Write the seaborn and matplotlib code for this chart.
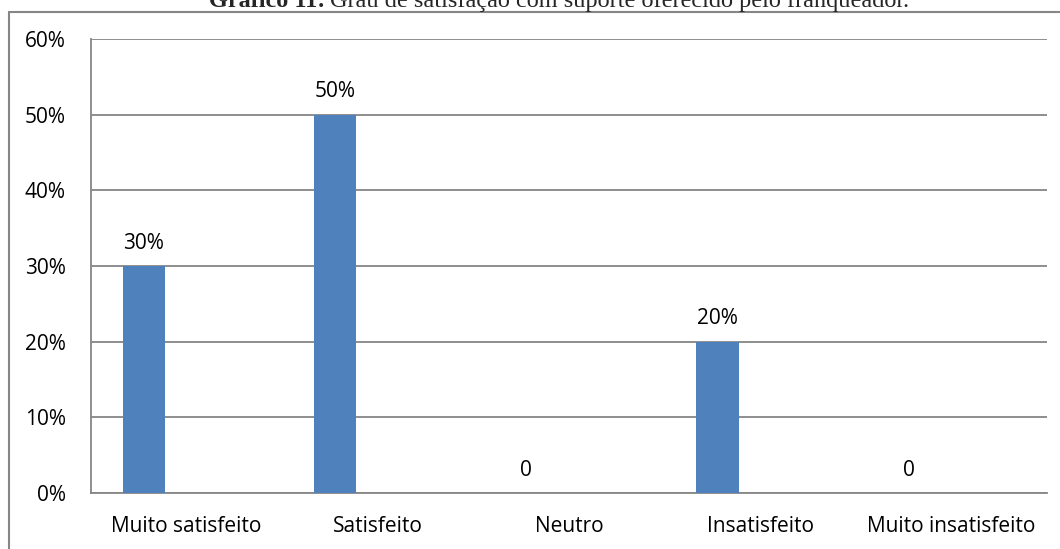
import matplotlib
matplotlib.use("Agg")
import matplotlib.pyplot as plt
from matplotlib.patches import Rectangle
from matplotlib.ticker import FixedLocator, FuncFormatter
import seaborn as sns
import pandas as pd

categories = ["Muito satisfeito", "Satisfeito", "Neutro", "Insatisfeito", "Muito insatisfeito"]
values = [0.30, 0.50, 0.0, 0.20, 0.0]
labels = ["30%", "50%", "0", "20%", "0"]
yticks = [0.0, 0.1, 0.2, 0.3, 0.4, 0.5, 0.6]

sns.set_theme(style="white")
plt.rcParams["font.family"] = ["Open Sans", "DejaVu Sans"]

GRID = "#868686"
BAR = "#4F81BD"
FS = 15

fig = plt.figure(figsize=(10.6, 5.49), dpi=100)
ax = fig.add_axes([0.0856, 0.102, 0.9021, 0.827])

df = pd.DataFrame({"categoria": categories, "valor": values})
sns.barplot(data=df, x="categoria", y="valor", color=BAR, width=0.221,
            saturation=1, ax=ax, zorder=3)

# bars sit in the left part of each category slot
shift = -0.223
for p in ax.patches:
    p.set_x(p.get_x() + shift)
    p.set_edgecolor("none")

for i, (v, t) in enumerate(zip(values, labels)):
    ax.annotate(t, (i + shift, v), xytext=(0, 12.5), textcoords="offset points",
                ha="center", va="baseline", fontsize=FS, color="black")

ax.set_xlim(-0.5, len(categories) - 0.5)
ax.set_ylim(0, 0.6)
ax.yaxis.set_major_locator(FixedLocator(yticks))
ax.yaxis.set_major_formatter(FuncFormatter(lambda v, _: f"{v*100:.0f}%"))
ax.yaxis.grid(True, color=GRID, linewidth=1.3, zorder=0)
ax.set_axisbelow(True)

ax.set_xlabel("")
ax.set_ylabel("")
ax.xaxis.set_minor_locator(FixedLocator([i - 0.5 for i in range(len(categories) + 1)]))
ax.tick_params(axis="x", which="major", length=0, pad=16.5, labelsize=FS, colors="black")
ax.tick_params(axis="x", which="minor", length=9, width=1.3, color=GRID, direction="out")
ax.tick_params(axis="y", which="major", length=8, width=1.3, color=GRID, direction="out",
               labelsize=FS, labelcolor="black", pad=10)

for side in ["top", "right"]:
    ax.spines[side].set_visible(False)
for side in ["left", "bottom"]:
    ax.spines[side].set_color(GRID)
    ax.spines[side].set_linewidth(1.3)

# outer frame of the chart
fig.patches.append(Rectangle((9 / 1060, -0.05), 1.1, 1 - 12 / 549 + 0.05,
                             transform=fig.transFigure, fill=False,
                             edgecolor=GRID, linewidth=1.5))

# caption above the frame (partly cut at the top edge)
fig.text(325 / 1060, 1 - 7 / 549, "Gráfico 11:", ha="right", va="baseline",
         fontsize=17.5, fontweight="bold", family="Liberation Serif")
fig.text(330 / 1060, 1 - 7 / 549, "Grau de satisfação com suporte oferecido pelo franqueador.",
         ha="left", va="baseline", fontsize=17.5, family="Liberation Serif")

fig.savefig("out.png", dpi=100)
